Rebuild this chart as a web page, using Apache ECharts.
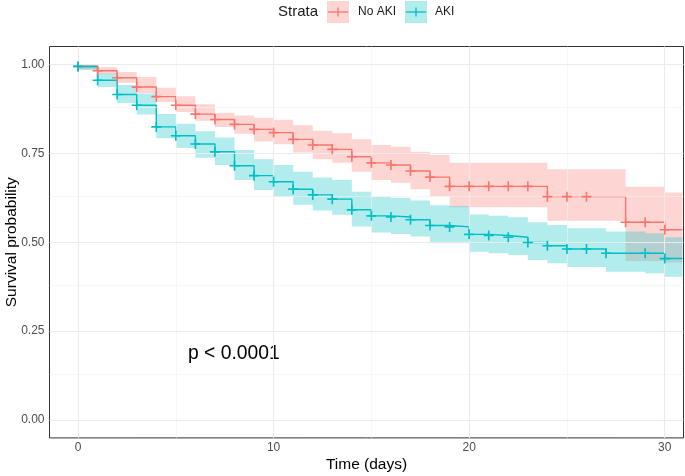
<!DOCTYPE html>
<html><head><meta charset="utf-8">
<script src="https://cdn.jsdelivr.net/npm/echarts@6/dist/echarts.min.js"></script>
<style>html,body{margin:0;padding:0;background:#fff}#c{width:685px;height:476px}</style>
</head><body><div id="c"></div>
<script>
// ---- data ----
const days = [0,1,2,3,4,5,6,7,8,9,10,11,12,13,14,15,16,17,18,19,20,21,22,23,24,25,26,27,28,29,30,30.9];
const noAkiSurv  = [0.994,0.982,0.962,0.936,0.909,0.885,0.860,0.845,0.831,0.817,0.808,0.789,0.773,0.761,0.740,0.723,0.717,0.700,0.683,0.657,0.657,0.657,0.657,0.657,0.628,0.628,0.628,0.628,0.556,0.556,0.535,0.535];
const noAkiLower = [0.986,0.972,0.948,0.919,0.894,0.866,0.841,0.824,0.805,0.783,0.775,0.752,0.733,0.723,0.698,0.675,0.667,0.649,0.629,0.598,0.598,0.598,0.598,0.598,0.560,0.560,0.560,0.560,0.447,0.447,0.443,0.443];
const noAkiUpper = [1.000,0.992,0.978,0.964,0.934,0.910,0.888,0.864,0.856,0.850,0.844,0.829,0.813,0.806,0.789,0.773,0.768,0.754,0.745,0.723,0.723,0.723,0.723,0.723,0.705,0.705,0.705,0.705,0.656,0.656,0.640,0.640];
const akiSurv    = [0.994,0.955,0.915,0.885,0.824,0.799,0.776,0.754,0.715,0.687,0.670,0.649,0.633,0.621,0.591,0.574,0.571,0.563,0.547,0.543,0.522,0.519,0.514,0.499,0.490,0.481,0.481,0.469,0.469,0.469,0.454,0.454];
const akiLower   = [0.984,0.936,0.891,0.859,0.792,0.765,0.737,0.717,0.675,0.647,0.628,0.605,0.589,0.577,0.544,0.527,0.523,0.516,0.497,0.497,0.473,0.469,0.464,0.450,0.441,0.430,0.430,0.417,0.417,0.413,0.403,0.403];
const akiUpper   = [1.000,0.974,0.942,0.918,0.860,0.833,0.812,0.794,0.759,0.733,0.717,0.698,0.682,0.675,0.642,0.628,0.625,0.617,0.604,0.602,0.578,0.574,0.570,0.556,0.548,0.539,0.539,0.530,0.530,0.525,0.514,0.514];
const noAkiCensorDays = [0,1,2,3,4,5,6,7,8,9,10,11,12,13,14,15,16,17,18,19,20,21,22,23,24,25,26,28,29,30];
const akiCensorDays   = [0,1,2,3,4,5,6,7,8,9,10,11,12,13,14,15,16,17,18,19,20,21,22,23,24,25,26,27,29,30];
const xTicks = [0,10,20,30];
const yTicks = [0,0.25,0.5,0.75,1];
const xMinor = [5,15,25];
const yMinor = [0.125,0.375,0.625,0.875];
const groups = ['No AKI','AKI'];
const pText = 'p < 0.0001';

const RED = '#F8766D', TEAL = '#00BFC4';
const FONT = 'Liberation Sans, Arial, sans-serif';

const pairs = (ys) => days.map((d,i)=>[d, ys[i]]);
const bandData = (lo, up) => days.map((d,i)=>[d, lo[i], up[i]]);
const censor = (cd, surv) => cd.map(d => [d, surv[days.indexOf(d)]]);
const PLUS = 'path://M-1.3,-8 L1.3,-8 L1.3,-1.3 L8,-1.3 L8,1.3 L1.3,1.3 L1.3,8 L-1.3,8 L-1.3,1.3 L-8,1.3 L-8,-1.3 L-1.3,-1.3 Z';

// step-shaped confidence band drawn as one polygon through the axis scales
function bandRenderer(lo, up, color) {
  return function (params, api) {
    if (params.dataIndex !== 0) return null;
    const n = days.length;
    const top = [], bot = [];
    for (let i = 0; i < n; i++) {
      const x0 = days[i], x1 = i < n - 1 ? days[i + 1] : days[i];
      top.push(api.coord([x0, up[i]]), api.coord([x1, up[i]]));
      bot.push(api.coord([x0, lo[i]]), api.coord([x1, lo[i]]));
    }
    const pts = top.concat(bot.reverse());
    return {type:'polygon', shape:{points:pts}, style:{fill:color, opacity:0.3}, silent:true};
  };
}

const gridLines = [];
xMinor.forEach(v=>gridLines.push({xAxis:v, lineStyle:{color:'#f2f2f2', width:0.6, type:'solid'}}));
yMinor.forEach(v=>gridLines.push({yAxis:v, lineStyle:{color:'#f2f2f2', width:0.6, type:'solid'}}));
xTicks.forEach(v=>gridLines.push({xAxis:v, lineStyle:{color:'#ebebeb', width:1.1, type:'solid'}}));
yTicks.forEach(v=>gridLines.push({yAxis:v, lineStyle:{color:'#ebebeb', width:1.1, type:'solid'}}));

const chart = echarts.init(document.getElementById('c'), null, {renderer:'canvas'});
chart.setOption({
  animation:false,
  textStyle:{fontFamily:FONT},
  grid:{left:49.5, right:1.5, top:46.5, bottom:38.1, outerBoundsMode:'none', containLabel:false,
        show:true, borderColor:'#333', borderWidth:1, backgroundColor:'transparent'},
  xAxis:{type:'value', min:-1.46, max:30.96,
    name:'Time (days)', nameLocation:'middle', nameGap:19, nameMoveOverlap:false,
    nameTextStyle:{fontSize:15.5, color:'#000', fontFamily:FONT},
    axisLine:{show:false}, splitLine:{show:false},
    axisTick:{show:true, customValues:xTicks, length:3, lineStyle:{color:'#333', width:1}},
    axisLabel:{customValues:xTicks, color:'#4d4d4d', fontSize:12, margin:4, fontFamily:FONT}},
  yAxis:{type:'value', min:-0.05, max:1.05,
    name:'Survival probability', nameLocation:'middle', nameGap:30, nameMoveOverlap:false,
    nameTextStyle:{fontSize:15.5, color:'#000', fontFamily:FONT},
    axisLine:{show:false}, splitLine:{show:false},
    axisTick:{show:true, customValues:yTicks, length:3, lineStyle:{color:'#333', width:1}},
    axisLabel:{customValues:yTicks, color:'#4d4d4d', fontSize:12, margin:5, fontFamily:FONT,
      formatter:(v)=>v.toFixed(2)}},
  series:[
    {name:'gridlines', type:'line', data:pairs(noAkiSurv), symbol:'none', lineStyle:{opacity:0, width:0}, z:1, silent:true,
     markLine:{silent:true, symbol:'none', label:{show:false}, animation:false, data:gridLines}},
    {type:'custom', data:bandData(noAkiLower,noAkiUpper), encode:{x:0, y:[1,2]}, z:2, silent:true,
     renderItem:bandRenderer(noAkiLower, noAkiUpper, RED)},
    {type:'custom', data:bandData(akiLower,akiUpper), encode:{x:0, y:[1,2]}, z:3, silent:true,
     renderItem:bandRenderer(akiLower, akiUpper, TEAL)},
    {name:groups[0], type:'line', data:pairs(noAkiSurv), step:'end', symbol:'none', z:4, silent:true,
     lineStyle:{color:RED, width:1.4}},
    {name:groups[1], type:'line', data:pairs(akiSurv), step:'end', symbol:'none', z:4, silent:true,
     lineStyle:{color:TEAL, width:1.4}},
    {type:'scatter', data:censor(noAkiCensorDays, noAkiSurv), symbol:PLUS, symbolSize:10, z:5, silent:true,
     itemStyle:{color:RED, opacity:1}},
    {type:'scatter', data:censor(akiCensorDays, akiSurv), symbol:PLUS, symbolSize:10, z:5, silent:true,
     itemStyle:{color:TEAL, opacity:1}}
  ],
  graphic:[
    {type:'text', left:188, top:344, style:{text:pText, fontSize:19.3, fill:'#000', fontFamily:FONT}},
    {type:'text', left:278, top:4, style:{text:'Strata', fontSize:15, fill:'#1a1a1a', fontFamily:FONT}},
    {type:'rect', shape:{x:327, y:1, width:22, height:22}, style:{fill:'rgba(248,118,109,0.3)'}},
    {type:'line', shape:{x1:328, y1:12, x2:348, y2:12}, style:{stroke:RED, lineWidth:1.3}},
    {type:'line', shape:{x1:338, y1:7.5, x2:338, y2:16.5}, style:{stroke:RED, lineWidth:1.3}},
    {type:'text', left:358, top:6, style:{text:groups[0], fontSize:12, fill:'#1a1a1a', fontFamily:FONT}},
    {type:'rect', shape:{x:405, y:1, width:22, height:22}, style:{fill:'rgba(0,191,196,0.3)'}},
    {type:'line', shape:{x1:406, y1:12, x2:426, y2:12}, style:{stroke:TEAL, lineWidth:1.3}},
    {type:'line', shape:{x1:416, y1:7.5, x2:416, y2:16.5}, style:{stroke:TEAL, lineWidth:1.3}},
    {type:'text', left:435, top:6, style:{text:groups[1], fontSize:12, fill:'#1a1a1a', fontFamily:FONT}}
  ]
});
</script></body></html>
